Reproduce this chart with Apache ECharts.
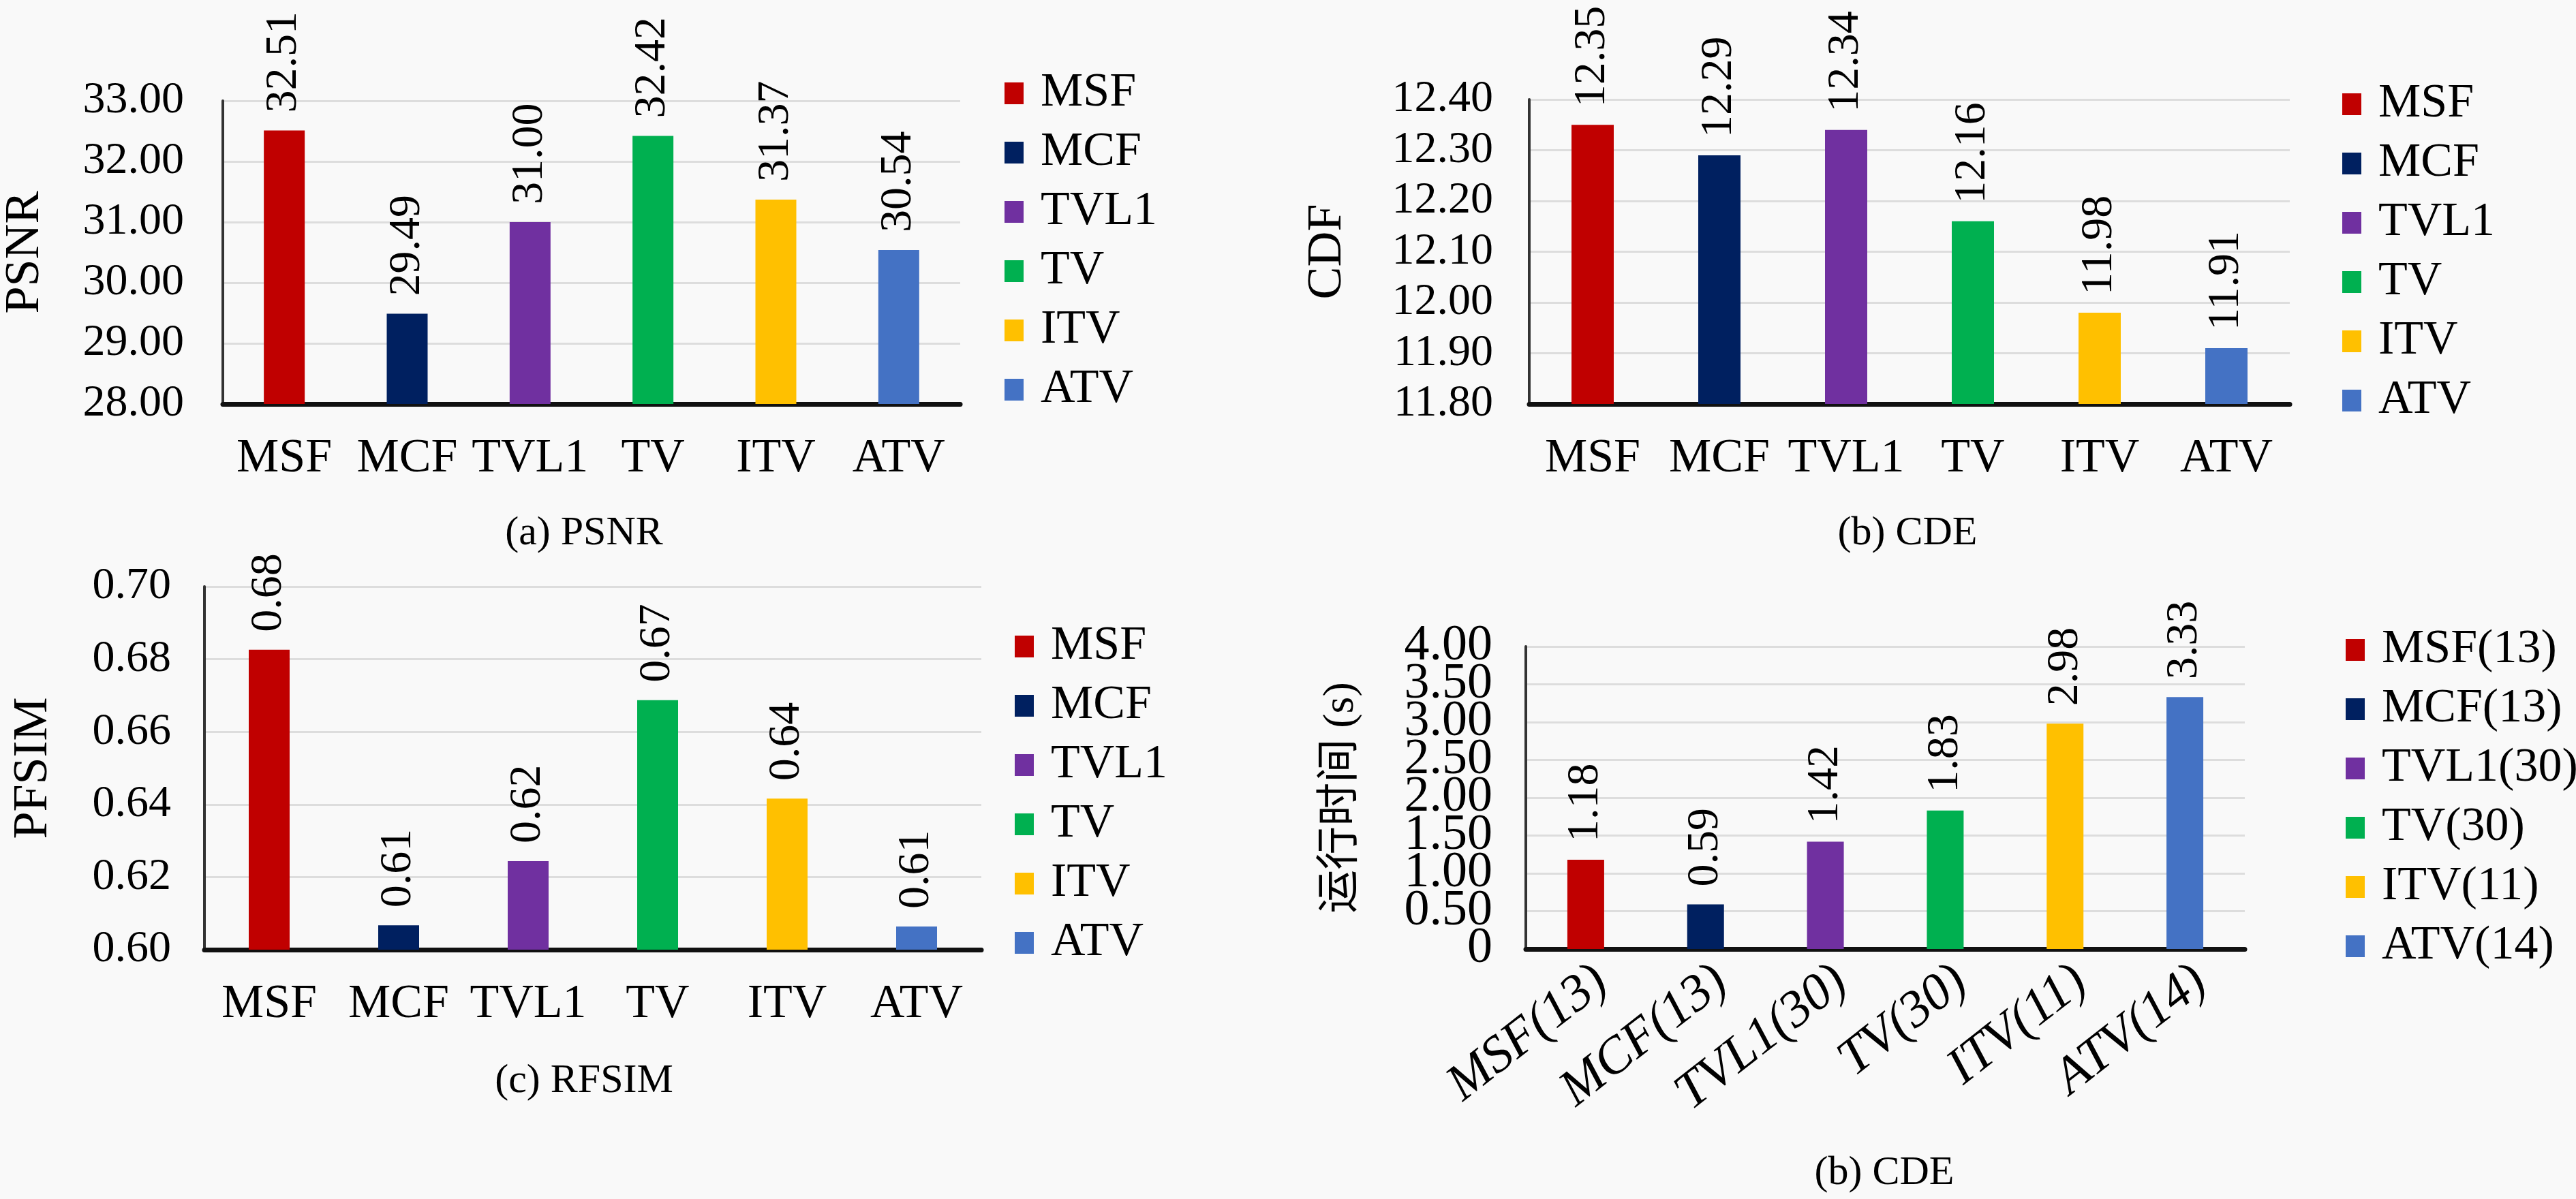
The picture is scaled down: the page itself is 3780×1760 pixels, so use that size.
<!DOCTYPE html>
<html><head><meta charset="utf-8">
<script src="https://cdn.jsdelivr.net/npm/echarts@6/dist/echarts.min.js"></script>
<style>html,body{margin:0;padding:0;background:#f9f9f9}#c{width:3780px;height:1760px}</style>
</head><body><div id="c"></div>
<script>
const methods = ['MSF', 'MCF', 'TVL1', 'TV', 'ITV', 'ATV'];
const timeCats = ['MSF(13)', 'MCF(13)', 'TVL1(30)', 'TV(30)', 'ITV(11)', 'ATV(14)'];
const colors = ['#C00000', '#002060', '#7030A0', '#00B050', '#FFC000', '#4472C4'];
const psnr = [32.51, 29.49, 31.00, 32.42, 31.37, 30.54];
const cdf = [12.35, 12.29, 12.34, 12.16, 11.98, 11.91];
const pfsim = [0.6826, 0.6067, 0.6244, 0.6687, 0.6416, 0.6064];
const runtime = [1.18, 0.59, 1.42, 1.83, 2.98, 3.33];
const captions = ['(a) PSNR', '(b) CDE', '(c) RFSIM', '(b) CDE'];
const yNames = ['PSNR', 'CDF', 'PFSIM', '运行时间 (s)'];

const FONT = '"Liberation Serif", serif';
const FONT_CJK = '"Liberation Serif", "Noto Sans CJK SC", serif';

const panels = [
  { grid: {left: 309, top: 148, width: 1100, height: 445}, min: 28, max: 33, interval: 1,
    cats: methods, values: psnr, name: yNames[0], nameGap: 254, tickMargin: 57, tickFont: 66,
    barWidth: 60, legend: {left: 1469, top: 97}, cap: [857, 783], capText: captions[0] },
  { grid: {left: 2244, top: 146, width: 1116, height: 447}, min: 11.8, max: 12.4, interval: 0.1,
    cats: methods, values: cdf, name: yNames[1], nameGap: 260, tickMargin: 53, tickFont: 66,
    barWidth: 62, legend: {left: 3432, top: 113}, cap: [2799, 783], capText: captions[1] },
  { grid: {left: 300, top: 861, width: 1140, height: 533}, min: 0.6, max: 0.7, interval: 0.02,
    cats: methods, values: pfsim, name: yNames[2], nameGap: 215, tickMargin: 49, tickFont: 66,
    barWidth: 60, legend: {left: 1484, top: 909}, cap: [857, 1587], capText: captions[2] },
  { grid: {left: 2239, top: 949, width: 1055, height: 444}, min: 0, max: 4, interval: 0.5,
    cats: timeCats, values: runtime, name: yNames[3], nameGap: 239, tickMargin: 49, tickFont: 74,
    barWidth: 54, legend: {left: 3437, top: 914}, cap: [2765, 1722], capText: captions[3], rotated: true }
];

const fmt = v => (Math.abs(v) < 1e-9 ? '0' : v.toFixed(2));
const isHalfEdge = v => Math.abs(v - 0.5) < 1e-9 || Math.abs(v - 3.5) < 1e-9;

const grids = [], xAxes = [], yAxes = [], series = [], legends = [], graphics = [];
panels.forEach((p, k) => {
  grids.push(Object.assign({containLabel: false}, p.grid));
  xAxes.push({
    type: 'category', gridIndex: k, data: p.cats,
    axisLine: {onZero: false, lineStyle: {color: '#111', width: 7}},
    axisTick: {show: false},
    axisLabel: p.rotated
      ? {interval: 0, rotate: 38, fontSize: 76, fontStyle: 'italic', fontFamily: FONT, color: '#000',
         margin: 10, align: 'right', verticalAlign: 'top'}
      : {interval: 0, fontSize: 70, fontFamily: FONT, color: '#000', margin: 46}
  });
  yAxes.push({
    type: 'value', gridIndex: k, min: p.min, max: p.max, interval: p.interval,
    name: p.name, nameLocation: 'middle', nameGap: p.nameGap, nameRotate: 90,
    nameTextStyle: {fontSize: p.rotated ? 64 : 72, fontFamily: FONT_CJK, color: '#000'},
    axisLine: {show: true, lineStyle: {color: '#333', width: 4}},
    axisTick: {show: false},
    splitLine: {lineStyle: {color: '#dddddd', width: 3}},
    axisLabel: {fontSize: p.tickFont, fontFamily: FONT, color: '#000', margin: p.tickMargin,
      showMinLabel: true, showMaxLabel: true, hideOverlap: false,
      formatter: p.rotated ? (v => (isHalfEdge(v) ? '' : fmt(v))) : fmt}
  });
  p.cats.forEach((c, i) => {
    series.push({
      type: 'bar', name: c, xAxisIndex: k, yAxisIndex: k,
      barWidth: p.barWidth, barGap: '-100%',
      itemStyle: {color: colors[i]},
      data: p.values.map((v, j) => (j === i ? v : '-')),
      label: {show: true, position: 'top', rotate: 90, align: 'left', verticalAlign: 'middle',
        distance: 26, fontSize: 66, fontFamily: FONT, color: '#000',
        formatter: d => Number(d.value).toFixed(2)}
    });
  });
  legends.push({
    orient: 'vertical', left: p.legend.left, top: p.legend.top,
    data: p.cats.slice(), icon: 'rect', itemWidth: 28, itemHeight: 32, itemGap: 17,
    selectedMode: false,
    textStyle: {fontSize: 70, lineHeight: 70, fontFamily: FONT, color: '#000', padding: [0, 0, 0, 20]}
  });
  graphics.push({
    type: 'text', x: p.cap[0], y: p.cap[1],
    style: {text: p.capText, font: '60px "Liberation Serif", serif', fill: '#000', textAlign: 'center', textVerticalAlign: 'middle'}
  });
});

// overlay axis on panel (d) carrying the 0.50 and 3.50 tick labels
const pd = panels[3];
yAxes.push({
  type: 'value', gridIndex: 3, position: 'left', min: pd.min, max: pd.max, interval: pd.interval,
  axisLine: {show: false}, axisTick: {show: false}, splitLine: {show: false},
  axisLabel: {fontSize: pd.tickFont, fontFamily: FONT, color: '#000', margin: pd.tickMargin,
    showMinLabel: true, showMaxLabel: true, hideOverlap: false,
    formatter: v => (isHalfEdge(v) ? fmt(v) : '')}
});

const chart = echarts.init(document.getElementById('c'));
chart.setOption({
  backgroundColor: '#f9f9f9',
  animation: false,
  grid: grids, xAxis: xAxes, yAxis: yAxes, series: series, legend: legends,
  graphic: graphics
});
</script></body></html>
